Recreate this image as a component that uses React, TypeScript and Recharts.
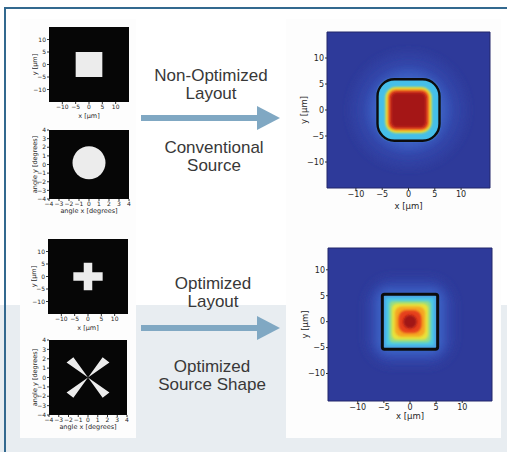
import { Area, ComposedChart, Label, ReferenceArea, ReferenceDot, XAxis, YAxis } from 'recharts';

// left column: layout masks (µm) and source shapes (degrees)
const layoutTicks = [-10, -5, 0, 5, 10];
const angleTicks = [-4, -3, -2, -1, 0, 1, 2, 3, 4];
const layoutDomain: [number, number] = [-15, 15];
const angleDomain: [number, number] = [-4, 4];

const squareLayout = [{ x1: -5, x2: 5, y1: -5, y2: 5 }];
const crossLayout = [
  { x1: -1.6, x2: 1.6, y1: -5.5, y2: 5.5 },
  { x1: -5.5, x2: 5.5, y1: -1.7, y2: 1.7 },
];
const circleSource = [{ x: 0, y: 0.2 }];

// "X" shaped source: four wedges, upper half as [low, high] per angle x
const wedgeX = [-2.2, -1.5, 0, 1.5, 2.2];
const wedgeLow = [1.6, 1.1, 0, 1.1, 1.6];
const wedgeHigh = [1.6, 2.15, 0, 2.15, 1.6];

// right column: aerial image intensity, nested contour levels (half width in µm)
const heatTicks = [-10, -5, 0, 5, 10];
const conventionalHalf = [11, 8.5, 7, 5.9, 4.4, 4.0, 3.7, 3.3];
const conventionalColors = ['#3142a5', '#364fb4', '#3e62c4', '#45bfe9', '#e9e236', '#f39a26', '#dd3a1d', '#a51515'];
const conventionalRound = [1, 1, 1, 0.5, 0.45, 0.4, 0.35, 0.3];
const conventionalEdge = 5.9;

const optimizedHalf = [8.5, 7, 6, 5.3, 4.6, 4.0, 3.5, 2.9, 2.2, 1.3];
const optimizedColors = ['#3142a5', '#3650b5', '#3e66c8', '#4aa6e6', '#4cc8e6', '#8fdc8c', '#e8e23a', '#f5a623', '#e5401c', '#a01414'];
const optimizedRound = [0.6, 0.5, 0.3, 0.08, 0.12, 0.2, 0.3, 0.45, 0.7, 1];
const optimizedEdge = 5.3;

const wedgeData = wedgeX.map((x, i) => ({
  x,
  upper: [wedgeLow[i], wedgeHigh[i]],
  lower: [-wedgeHigh[i], -wedgeLow[i]],
}));

type Box = { x: number; y: number; w: number; h: number };

const minus = (v: number) => String(v).replace('-', '\u2212');

function roundRect(color: string, round: number, filter?: string, stroke?: number) {
  return (p: any) => {
    const x = Math.min(p.x, p.x + p.width);
    const y = Math.min(p.y, p.y + p.height);
    const w = Math.abs(p.width);
    const h = Math.abs(p.height);
    const r = (Math.min(w, h) / 2) * round;
    return (
      <rect
        x={x}
        y={y}
        width={w}
        height={h}
        rx={r}
        ry={r}
        fill={stroke ? 'none' : color}
        stroke={stroke ? color : 'none'}
        strokeWidth={stroke ?? 0}
        filter={filter}
      />
    );
  };
}

type PanelProps = {
  box: Box;
  yw: number;
  xh: number;
  xDomain: [number, number];
  yDomain: [number, number];
  ticks: number[];
  xLabel: string;
  yLabel: string;
  font: number;
  yLabelOffset: number;
  xLabelOffset: number;
  data?: any[];
  children?: any;
};

function Panel({ box, yw, xh, xDomain, yDomain, ticks, xLabel, yLabel, font, yLabelOffset, xLabelOffset, data, children }: PanelProps) {
  const pad = 6;
  const tickStyle = { fontSize: font, fill: '#262626', fontFamily: 'DejaVu Sans' };
  return (
    <div style={{ position: 'absolute', left: box.x - yw, top: box.y - pad }}>
      <ComposedChart
        width={box.w + yw + pad}
        height={box.h + xh + pad}
        data={data}
        margin={{ top: pad, right: pad, bottom: 0, left: 0 }}
      >
        <XAxis
          type="number"
          dataKey="x"
          domain={xDomain}
          ticks={ticks}
          interval={0}
          height={xh}
          allowDataOverflow
          tick={tickStyle}
          tickFormatter={minus}
          tickSize={2}
          tickMargin={1}
          axisLine={false}
          stroke="#333"
        >
          <Label value={xLabel} position="insideBottom" offset={xLabelOffset} style={{ ...tickStyle, fontSize: font + 0.5 }} />
        </XAxis>
        <YAxis
          type="number"
          domain={yDomain}
          ticks={ticks}
          interval={0}
          width={yw}
          allowDataOverflow
          tick={tickStyle}
          tickFormatter={minus}
          tickSize={2}
          tickMargin={1}
          axisLine={false}
          stroke="#333"
        >
          <Label
            value={yLabel}
            angle={-90}
            position="insideLeft"
            offset={yLabelOffset}
            style={{ ...tickStyle, fontSize: font + 0.5, textAnchor: 'middle' }}
          />
        </YAxis>
        {children}
      </ComposedChart>
    </div>
  );
}

function Backdrop({ domain }: { domain: [number, number] }) {
  return (
    <ReferenceArea
      x1={domain[0]}
      x2={domain[1]}
      y1={domain[0]}
      y2={domain[1]}
      fill="#060606"
      fillOpacity={1}
      stroke="none"
      zIndex={-10}
    />
  );
}

function Heatmap({
  box,
  xDomain,
  yDomain,
  halfs,
  colors,
  rounds,
  edge,
  edgeRound,
  edgeWidth,
  xh,
}: {
  box: Box;
  xDomain: [number, number];
  yDomain: [number, number];
  halfs: number[];
  colors: string[];
  rounds: number[];
  edge: number;
  edgeRound: number;
  edgeWidth: number;
  xh: number;
}) {
  return (
    <Panel
      box={box}
      yw={28}
      xh={xh}
      xDomain={xDomain}
      yDomain={yDomain}
      ticks={heatTicks}
      xLabel="x [µm]"
      yLabel="y [µm]"
      font={8}
      yLabelOffset={5}
      xLabelOffset={4}
    >
      <ReferenceArea x1={xDomain[0]} x2={xDomain[1]} y1={yDomain[0]} y2={yDomain[1]} fill="#2e3a9a" fillOpacity={1} stroke="#23266a" />
      {halfs.map((half, i) => (
        <ReferenceArea
          key={i}
          x1={-half}
          x2={half}
          y1={-half}
          y2={half}
          shape={roundRect(colors[i], rounds[i], i < 3 ? 'url(#glow)' : 'url(#soft)')}
        />
      ))}
      <ReferenceArea x1={-edge} x2={edge} y1={-edge} y2={edge} shape={roundRect('#0c0c0c', edgeRound, undefined, edgeWidth)} />
    </Panel>
  );
}

function Caption({ cx, cy, lines }: { cx: number; cy: number; lines: string[] }) {
  return (
    <div
      style={{
        position: 'absolute',
        left: cx - 90,
        top: cy - 9,
        width: 180,
        textAlign: 'center',
        fontFamily: '"Liberation Sans", Arial, sans-serif',
        fontSize: 17,
        lineHeight: '18px',
        color: '#383838',
      }}
    >
      {lines.map((l) => (
        <div key={l}>{l}</div>
      ))}
    </div>
  );
}

function Arrow({ y }: { y: number }) {
  return (
    <svg style={{ position: 'absolute', left: 140, top: y - 12 }} width={142} height={24}>
      <rect x={1} y={9} width={118} height={6} fill="#80a8c3" />
      <polygon points="117,0 140,12 117,24" fill="#80a8c3" />
    </svg>
  );
}

export default function App() {
  return (
    <div style={{ position: 'absolute', left: 0, top: 0, width: 507, height: 452, background: '#ffffff', overflow: 'hidden' }}>
      <svg width={0} height={0} style={{ position: 'absolute' }}>
        <defs>
          <filter id="glow" x="-30%" y="-30%" width="160%" height="160%">
            <feGaussianBlur stdDeviation={4} />
          </filter>
          <filter id="soft" x="-20%" y="-20%" width="140%" height="140%">
            <feGaussianBlur stdDeviation={1.3} />
          </filter>
        </defs>
      </svg>
      <div style={{ position: 'absolute', left: 0, top: 305, width: 507, height: 147, background: '#e8edf1' }} />
      <div style={{ position: 'absolute', left: 20, top: 19, width: 116, height: 419, background: '#fdfdfd' }} />
      <div style={{ position: 'absolute', left: 286, top: 19, width: 215, height: 419, background: '#fdfdfd' }} />
      <div style={{ position: 'absolute', left: 4, top: 7, width: 503, height: 2, background: '#33698f' }} />
      <div style={{ position: 'absolute', left: 4, top: 7, width: 2, height: 445, background: '#33698f' }} />

      <Panel box={{ x: 49, y: 27, w: 80, h: 75 }} yw={17} xh={21} xDomain={layoutDomain} yDomain={layoutDomain} ticks={layoutTicks} xLabel="x [µm]" yLabel="y [µm]" font={6} yLabelOffset={3} xLabelOffset={5}>
        <Backdrop domain={layoutDomain} />
        {squareLayout.map((r, i) => (
          <ReferenceArea key={i} x1={r.x1} x2={r.x2} y1={r.y1} y2={r.y2} fill="#ececec" fillOpacity={1} stroke="none" />
        ))}
      </Panel>

      <Panel box={{ x: 49, y: 130, w: 80, h: 69 }} yw={17} xh={19} xDomain={angleDomain} yDomain={angleDomain} ticks={angleTicks} xLabel="angle x [degrees]" yLabel="angle y [degrees]" font={6} yLabelOffset={3} xLabelOffset={5}>
        <Backdrop domain={angleDomain} />
        {circleSource.map((c, i) => (
          <ReferenceDot key={i} x={c.x} y={c.y} r={16.5} fill="#ececec" stroke="none" />
        ))}
      </Panel>

      <Panel box={{ x: 48, y: 239, w: 80, h: 75 }} yw={17} xh={21} xDomain={layoutDomain} yDomain={layoutDomain} ticks={layoutTicks} xLabel="x [µm]" yLabel="y [µm]" font={6} yLabelOffset={3} xLabelOffset={5}>
        <Backdrop domain={layoutDomain} />
        {crossLayout.map((r, i) => (
          <ReferenceArea key={i} x1={r.x1} x2={r.x2} y1={r.y1} y2={r.y2} fill="#ececec" fillOpacity={1} stroke="none" />
        ))}
      </Panel>

      <Panel box={{ x: 49, y: 340, w: 78, h: 75 }} yw={17} xh={19} xDomain={angleDomain} yDomain={angleDomain} ticks={angleTicks} xLabel="angle x [degrees]" yLabel="angle y [degrees]" font={6} yLabelOffset={3} xLabelOffset={5} data={wedgeData}>
        <Backdrop domain={angleDomain} />
        <Area type="linear" dataKey="upper" stroke="none" fill="#ececec" fillOpacity={1} isAnimationActive={false} dot={false} activeDot={false} zIndex={50} />
        <Area type="linear" dataKey="lower" stroke="none" fill="#ececec" fillOpacity={1} isAnimationActive={false} dot={false} activeDot={false} zIndex={50} />
      </Panel>

      <Heatmap
        box={{ x: 327, y: 32, w: 163, h: 156 }}
        xDomain={[-15.5, 15.5]}
        yDomain={[-15, 15]}
        halfs={conventionalHalf}
        colors={conventionalColors}
        rounds={conventionalRound}
        edge={conventionalEdge}
        edgeRound={0.55}
        edgeWidth={2.4}
        xh={25}
      />
      <Heatmap
        box={{ x: 328, y: 248, w: 164, h: 153 }}
        xDomain={[-15.7, 15.7]}
        yDomain={[-15.3, 14.2]}
        halfs={optimizedHalf}
        colors={optimizedColors}
        rounds={optimizedRound}
        edge={optimizedEdge}
        edgeRound={0.08}
        edgeWidth={3}
        xh={22}
      />

      <Caption cx={211} cy={76} lines={['Non-Optimized', 'Layout']} />
      <Arrow y={118} />
      <Caption cx={214} cy={148} lines={['Conventional', 'Source']} />
      <Caption cx={213} cy={284} lines={['Optimized', 'Layout']} />
      <Arrow y={328} />
      <Caption cx={212} cy={367} lines={['Optimized', 'Source Shape']} />
    </div>
  );
}
